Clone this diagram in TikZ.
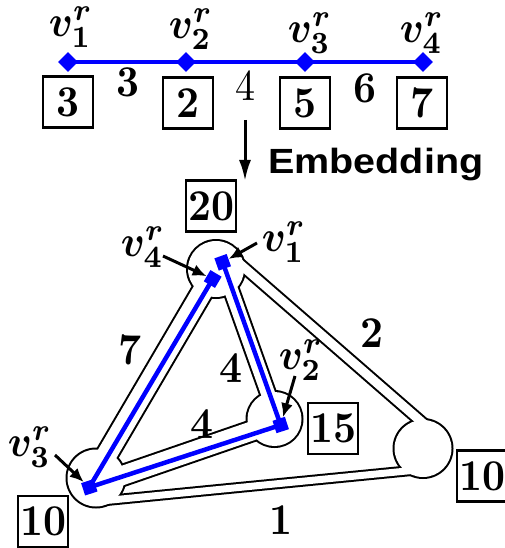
\documentclass[tikz,border=0pt]{standalone}
\usepackage{bm}
\usepackage{graphicx}
\usepackage{fontspec}
\newfontfamily\embfont{Liberation Sans}
\usetikzlibrary{arrows.meta}
\newcommand{\txs}[1]{\scalebox{4.0}[4.4]{#1}}
\begin{document}
\begin{tikzpicture}[x=1pt,y=-1pt,
  lbl/.style={inner sep=0pt},
  numbox/.style={draw,line width=2.3pt,minimum width=50pt,minimum height=51pt,inner sep=0pt},
  diam/.style={fill=blue,minimum size=14pt,inner sep=0pt,rotate=45},
  bsq/.style={fill=blue,minimum size=13pt,inner sep=0pt},
  bluepath/.style={blue,line width=4.5pt},
  pointer/.style={line width=3pt,-{Latex[length=14pt,width=12pt]}},
  bigarrow/.style={line width=3pt,-{Latex[length=21pt,width=12pt]}},
]
\useasboundingbox (0,0) rectangle (505,548);

% ---------- top path ----------
\node[diam] (t1) at (68,62) {};
\node[diam] (t2) at (186,62) {};
\node[diam] (t3) at (305,62) {};
\node[diam] (t4) at (423,62) {};
\draw[bluepath] (t1.center) -- (t2.center) -- (t3.center) -- (t4.center);

\node[lbl] (L1) at (71,27) {\txs{$\bm{v^r_1}$}};
\node[lbl] (L2) at (191,29) {\txs{$\bm{v^r_2}$}};
\node[lbl] (L3) at (310,33) {\txs{$\bm{v^r_3}$}};
\node[lbl] (L4) at (422,33) {\txs{$\bm{v^r_4}$}};

\node[numbox] (b1) at (68,102) {\txs{\textbf{3}}};
\node[numbox] (b2) at (188,103) {\txs{\textbf{2}}};
\node[numbox] (b3) at (305,103) {\txs{\textbf{5}}};
\node[numbox] (b4) at (422,103) {\txs{\textbf{7}}};

\node[lbl] (w12) at (128,82) {\txs{\textbf{3}}};
\node[lbl] (w23) at (245,86) {\txs{4}};
\node[lbl] (w34) at (365,88) {\txs{\textbf{6}}};

\coordinate (a0) at (245,120);
\coordinate (a1) at (245,181);
\draw[bigarrow] (a0) -- (a1);
\node[lbl,anchor=base west] (emb) at (268,174) {\scalebox{3.95}[3.5]{\embfont\bfseries Embedding}};

% ---------- substrate ----------
\coordinate (cT) at (216,269);
\coordinate (cM) at (274.5,419);
\coordinate (cB) at (96,478);
\coordinate (cR) at (423,448.5);

\coordinate (t7a) at (215,270);   \coordinate (t7b) at (93,478);
\coordinate (t4a) at (223.6,269); \coordinate (t4b) at (277.1,419);
\coordinate (t2a) at (228.8,254.3); \coordinate (t2b) at (435.3,433.9);
\coordinate (t1a) at (98.3,501.3); \coordinate (t1b) at (425.1,469.2);
\coordinate (t4c) at (98.1,483.9); \coordinate (t4d) at (273.2,423.6);

\foreach \p/\q/\w in {t7a/t7b/24pt, t4a/t4b/18pt, t2a/t2b/13pt, t1a/t1b/11pt, t4c/t4d/23pt}
  \draw[line width=\w] (\p) -- (\q);
\fill (cT) circle[radius=30pt];
\fill (cM) circle[radius=29pt];
\fill (cB) circle[radius=30.5pt];
\fill (cR) circle[radius=30.5pt];
\foreach \p/\q/\w in {t7a/t7b/20pt, t4a/t4b/14pt, t2a/t2b/9pt, t1a/t1b/7pt, t4c/t4d/19pt}
  \draw[white,line width=\w] (\p) -- (\q);
\fill[white] (cT) circle[radius=28pt];
\fill[white] (cM) circle[radius=27pt];
\fill[white] (cB) circle[radius=28.5pt];
\fill[white] (cR) circle[radius=28.5pt];

\node[bsq,rotate=19.6] (v1) at (222.7,262.3) {};
\node[bsq,rotate=59.4] (v4) at (212.7,279) {};
\node[bsq,rotate=18] (v2) at (280.7,425) {};
\node[bsq,rotate=18] (v3) at (89.3,487.3) {};
\draw[bluepath] (v1.center) -- (v2.center) -- (v3.center) -- (v4.center);

\node[lbl] (l4) at (143,247) {\txs{$\bm{v^r_4}$}};
\node[lbl] (l1) at (284,242) {\txs{$\bm{v^r_1}$}};
\node[lbl] (l2) at (301,360) {\txs{$\bm{v^r_2}$}};
\node[lbl] (l3) at (30,447) {\txs{$\bm{v^r_3}$}};
\coordinate (p4) at (163,256);
\coordinate (p1) at (257,243);
\coordinate (p2) at (295,376);
\coordinate (p3) at (55,455);
\draw[pointer] (p4) -- (v4);
\draw[pointer] (p1) -- (v1);
\draw[pointer] (p2) -- (v2);
\draw[pointer] (p3) -- (v3);

\node[numbox] (n20) at (211,206) {\txs{\textbf{20}}};
\node[numbox] (n15) at (333.3,428.3) {\txs{\textbf{15}}};
\node[numbox] (n10a) at (43.3,521.7) {\txs{\textbf{10}}};
\node[numbox] (n10b) at (482,476) {\txs{\textbf{10}}};

\node[lbl] (e7) at (130,350) {\txs{\textbf{7}}};
\node[lbl] (e2) at (372,333) {\txs{\textbf{2}}};
\node[lbl] (e4a) at (231,368) {\txs{\textbf{4}}};
\node[lbl] (e4b) at (202,424) {\txs{\textbf{4}}};
\node[lbl] (e1) at (281,520) {\txs{\textbf{1}}};
\end{tikzpicture}
\end{document}
